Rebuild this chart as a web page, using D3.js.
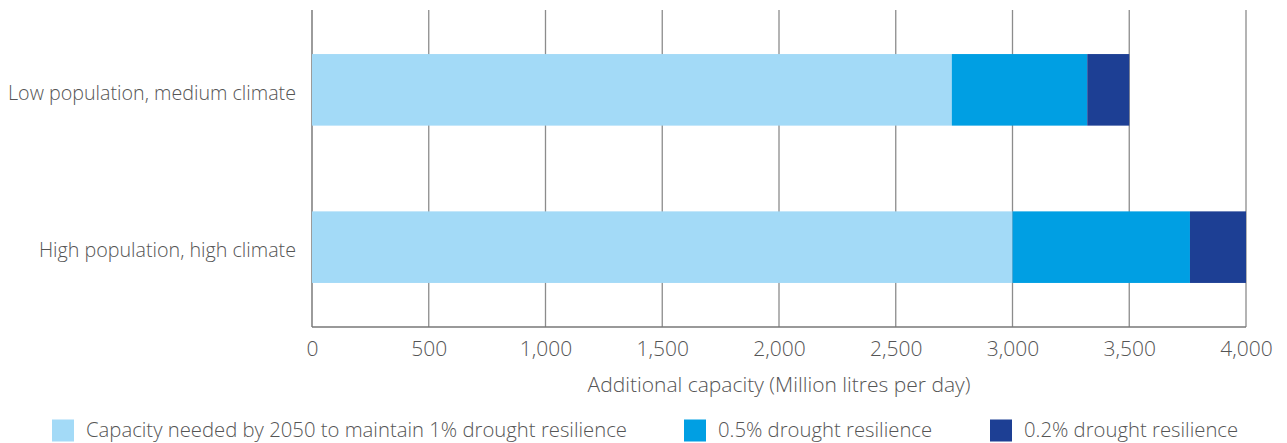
<!DOCTYPE html>
<html>
<head>
<meta charset="utf-8">
<script src="https://cdn.jsdelivr.net/npm/d3@7"></script>
<style>
  html, body { margin: 0; padding: 0; background: #fff; }
  svg text { font-family: "Open Sans", sans-serif; font-weight: 300; fill: #555; }
</style>
</head>
<body>
<svg id="chart" width="1287" height="443"></svg>
<script>
// Scenarios (rows) and stacked capacity components, Ml/d
const scenarios = ["Low population, medium climate", "High population, high climate"];
const seriesNames = [
  "Capacity needed by 2050 to maintain 1% drought resilience",
  "0.5% drought resilience",
  "0.2% drought resilience"
];
const base1pct   = [2740, 3000];
const extra05pct = [580, 760];
const extra02pct = [180, 240];
const tickValues = [0, 500, 1000, 1500, 2000, 2500, 3000, 3500, 4000];
const axisTitle = "Additional capacity (Million litres per day)";
const colors = ["#a3daf7", "#009fe3", "#1d3f94"];

const svg = d3.select("#chart");
const margin = { left: 312, right: 41, top: 10, bottom: 116 };
const W = 1287, H = 443;

const x = d3.scaleLinear().domain([0, 4000]).range([margin.left, W - margin.right]);
const y = d3.scaleBand().domain(scenarios).range([margin.top, H - margin.bottom]).paddingInner(0.545).paddingOuter(0.28);

// grid lines
svg.append("g")
  .selectAll("line")
  .data(tickValues)
  .join("line")
  .attr("x1", d => x(d)).attr("x2", d => x(d))
  .attr("y1", margin.top).attr("y2", H - margin.bottom)
  .attr("stroke", d => d === 0 ? "#666" : "#8c8c8c")
  .attr("stroke-width", 1.3);

// baseline
svg.append("line")
  .attr("x1", x(0)).attr("x2", x(4000))
  .attr("y1", H - margin.bottom).attr("y2", H - margin.bottom)
  .attr("stroke", "#777").attr("stroke-width", 1.5);

// stacked bars
const rows = scenarios.map((s, i) => ({ scenario: s, a: base1pct[i], b: extra05pct[i], c: extra02pct[i] }));
const stack = d3.stack().keys(["a", "b", "c"])(rows);

svg.append("g")
  .selectAll("g")
  .data(stack)
  .join("g")
  .attr("fill", (d, i) => colors[i])
  .selectAll("rect")
  .data(d => d)
  .join("rect")
  .attr("x", d => x(d[0]))
  .attr("width", d => x(d[1]) - x(d[0]))
  .attr("y", d => y(d.data.scenario))
  .attr("height", y.bandwidth());

// category labels
svg.append("g")
  .selectAll("text")
  .data(scenarios)
  .join("text")
  .attr("x", 296)
  .attr("y", d => y(d) + y.bandwidth() / 2 + 10)
  .attr("text-anchor", "end")
  .style("font-size", "19.7px")
  .text(d => d);

// x axis labels
const xAxis = d3.axisBottom(x).tickValues(tickValues).tickSize(0).tickPadding(0)
  .tickFormat(d3.format(","));
const gx = svg.append("g").attr("transform", `translate(0,${H - margin.bottom})`).call(xAxis);
gx.select(".domain").remove();
gx.selectAll("text").attr("dy", null).attr("y", 29)
  .style("font-size", "21px").style("font-family", null).attr("fill", null);

svg.append("text")
  .attr("x", (x(0) + x(4000)) / 2)
  .attr("y", 392)
  .attr("text-anchor", "middle")
  .style("font-size", "21px")
  .text(axisTitle);

// legend
const legendX = [52, 684, 990];
const lg = svg.append("g")
  .selectAll("g")
  .data(seriesNames)
  .join("g")
  .attr("transform", (d, i) => `translate(${legendX[i]},419.5)`);
lg.append("rect").attr("width", 22).attr("height", 22).attr("fill", (d, i) => colors[i]);
lg.append("text").attr("x", 34).attr("y", 17).style("font-size", "20.3px").text(d => d);
</script>
</body>
</html>
